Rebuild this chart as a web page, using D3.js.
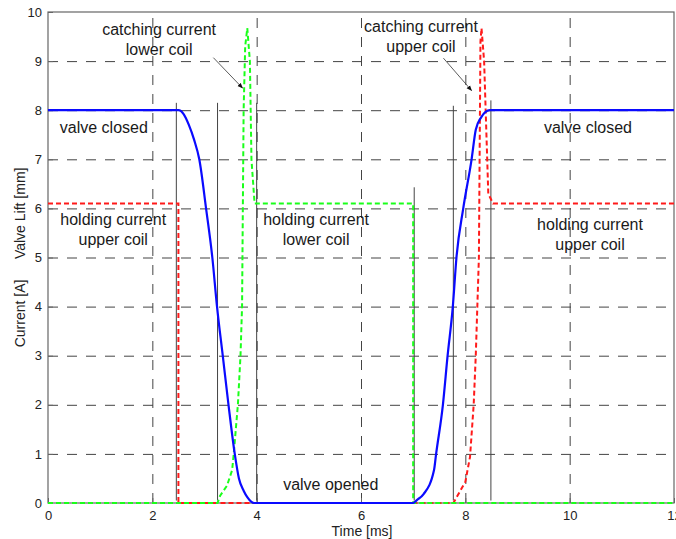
<!DOCTYPE html>
<html>
<head>
<meta charset="utf-8">
<script src="https://cdn.jsdelivr.net/npm/d3@7"></script>
<style>
  body { margin: 0; background: #fff; }
  svg { font-family: "Liberation Sans", Arial, sans-serif; }
  .grid line { stroke: #444; stroke-dasharray: 10,9; }
  .grid path { display: none; }
  .axis path { display: none; }
  .axis line { stroke: #666; }
  .axis text { font-size: 13px; fill: #222; }
  .note { font-size: 16px; fill: #1a1a1a; }
  .axis-label { font-size: 14px; fill: #222; }
</style>
</head>
<body>
<div id="figure-container"></div>
<script>
// valve lift (blue, solid)
const liftT = [0, 2.5, 2.6, 2.7, 2.8, 2.9, 3.03, 3.15, 3.24, 3.35, 3.46, 3.58, 3.66, 3.75, 3.82, 3.95, 7.0, 7.07, 7.2, 7.4, 7.44, 7.57, 7.66, 7.76, 7.83, 7.96, 8.12, 8.2, 8.3, 8.47, 12];
const liftV = [8, 8, 7.92, 7.7, 7.4, 7.0, 6, 5, 4, 3, 2, 1, 0.5, 0.25, 0.12, 0, 0, 0.06, 0.18, 0.67, 1, 2, 3, 4, 5, 6, 7, 7.6, 7.85, 8, 8];
// upper coil current (red, dashed)
const upperT = [0, 2.5, 2.5, 7.77, 8.0, 8.09, 8.16, 8.2, 8.23, 8.26, 8.29, 8.31, 8.36, 8.44, 8.53, 12];
const upperV = [6.1, 6.1, 0, 0, 0.43, 0.94, 2, 3, 4, 5, 9.4, 9.67, 9, 6.3, 6.1, 6.1];
// lower coil current (green, dashed)
const lowerT = [0, 3.25, 3.3, 3.43, 3.53, 3.56, 3.64, 3.69, 3.72, 3.75, 3.78, 3.82, 3.87, 3.9, 3.96, 7.0, 7.0, 12];
const lowerV = [0, 0, 0.15, 0.35, 0.67, 1, 2, 3, 4, 8, 9.3, 9.67, 9, 7, 6.1, 6.1, 0, 0];
// thin solid event lines
const eventT = [2.46, 3.25, 4.0, 7.02, 7.77, 8.49];
const eventTop = [8.15, 8.15, 8.15, 6.43, 8.09, 8.2];

const xTicks = [0, 2, 4, 6, 8, 10, 12];
const yTicks = [0, 1, 2, 3, 4, 5, 6, 7, 8, 9, 10];

var margin = {top: 12, right: 2, bottom: 36, left: 48};
var fullWidth = 676, fullHeight = 539;
var width = fullWidth - margin.left - margin.right;
var height = fullHeight - margin.top - margin.bottom;

var xScale = d3.scaleLinear().domain([0, 12]).range([0, width]);
var yScale = d3.scaleLinear().domain([0, 10]).range([height, 0]);

var svg = d3.select('#figure-container')
  .append('svg')
  .attr('width', fullWidth)
  .attr('height', fullHeight)
  .append('g')
  .attr('transform', `translate(${margin.left},${margin.top})`);

// grid
svg.append('g')
  .attr('class', 'grid x')
  .attr('transform', `translate(0,${height})`)
  .call(d3.axisBottom(xScale).tickValues(xTicks.slice(1, -1)).tickSize(-height).tickFormat(''));
svg.append('g')
  .attr('class', 'grid y')
  .call(d3.axisLeft(yScale).tickValues(yTicks.slice(1, -1)).tickSize(-width).tickFormat(''));

// axes
svg.append('g')
  .attr('class', 'axis x')
  .attr('transform', `translate(0,${height})`)
  .call(d3.axisBottom(xScale).tickValues(xTicks).tickSize(-5).tickPadding(8).tickFormat(d3.format('d')));
svg.append('g')
  .attr('class', 'axis y')
  .call(d3.axisLeft(yScale).tickValues(yTicks).tickSize(-5).tickPadding(6).tickFormat(d3.format('d')));

// frame
svg.append('rect')
  .attr('width', width)
  .attr('height', height)
  .attr('fill', 'none')
  .attr('stroke', '#666')
  .attr('stroke-width', 1.2);

// event lines
svg.append('g')
  .selectAll('line')
  .data(eventT)
  .enter()
    .append('line')
    .attr('x1', d => xScale(d))
    .attr('x2', d => xScale(d))
    .attr('y1', (d, i) => yScale(eventTop[i]))
    .attr('y2', yScale(0.05))
    .attr('stroke', '#444')
    .attr('stroke-width', 1);

var line = d3.line()
  .x(d => xScale(d[0]))
  .y(d => yScale(d[1]));

var zip = (a, b) => a.map((v, i) => [v, b[i]]);

svg.append('path')
  .datum(zip(upperT, upperV))
  .attr('d', line)
  .attr('fill', 'none')
  .attr('stroke', '#ff1a1a')
  .attr('stroke-width', 2)
  .attr('stroke-dasharray', '5,3');

svg.append('path')
  .datum(zip(lowerT, lowerV))
  .attr('d', line)
  .attr('fill', 'none')
  .attr('stroke', '#1aff1a')
  .attr('stroke-width', 2)
  .attr('stroke-dasharray', '5,3');

svg.append('path')
  .datum(zip(liftT, liftV))
  .attr('d', line.curve(d3.curveMonotoneX))
  .attr('fill', 'none')
  .attr('stroke', '#0a0aff')
  .attr('stroke-width', 2.2);

// annotations
var notes = [
  {x: 2.13, y: 9.53, lines: ['catching current', 'lower coil']},
  {x: 7.15, y: 9.59, lines: ['catching current', 'upper coil']},
  {x: 1.07, y: 7.54, lines: ['valve closed']},
  {x: 10.35, y: 7.54, lines: ['valve closed']},
  {x: 1.25, y: 5.66, lines: ['holding current', 'upper coil']},
  {x: 5.14, y: 5.66, lines: ['holding current', 'lower coil']},
  {x: 10.39, y: 5.56, lines: ['holding current', 'upper coil']},
  {x: 5.42, y: 0.26, lines: ['valve opened']}
];
notes.forEach(n => {
  var t = svg.append('text')
    .attr('class', 'note')
    .attr('text-anchor', 'middle')
    .attr('x', xScale(n.x))
    .attr('y', yScale(n.y));
  n.lines.forEach((s, i) => {
    t.append('tspan')
      .attr('x', xScale(n.x))
      .attr('dy', i === 0 ? 0 : 19.5)
      .text(s);
  });
});

// arrows
svg.append('defs').append('marker')
  .attr('id', 'arrow')
  .attr('viewBox', '0 0 10 10')
  .attr('refX', 9).attr('refY', 5)
  .attr('markerWidth', 7).attr('markerHeight', 7)
  .attr('orient', 'auto')
  .append('path')
  .attr('d', 'M0,1 L10,5 L0,9 Z')
  .attr('fill', '#111');

var arrows = [
  {x1: 3.17, y1: 9.07, x2: 3.73, y2: 8.45},
  {x1: 7.58, y1: 9.06, x2: 8.12, y2: 8.4}
];
svg.append('g')
  .selectAll('line')
  .data(arrows)
  .enter()
    .append('line')
    .attr('x1', d => xScale(d.x1))
    .attr('y1', d => yScale(d.y1))
    .attr('x2', d => xScale(d.x2))
    .attr('y2', d => yScale(d.y2))
    .attr('stroke', '#333')
    .attr('stroke-width', 0.8)
    .attr('marker-end', 'url(#arrow)');

// axis labels
svg.append('text')
  .attr('class', 'axis-label')
  .attr('x', xScale(6.02))
  .attr('y', height + 33)
  .attr('text-anchor', 'middle')
  .text('Time [ms]');

svg.append('text')
  .attr('class', 'axis-label')
  .attr('transform', `translate(-23,${yScale(5.9)}) rotate(-90)`)
  .attr('text-anchor', 'middle')
  .text('Valve Lift [mm]');

svg.append('text')
  .attr('class', 'axis-label')
  .attr('transform', `translate(-23,${yScale(3.86)}) rotate(-90)`)
  .attr('text-anchor', 'middle')
  .text('Current [A]');
</script>
</body>
</html>
